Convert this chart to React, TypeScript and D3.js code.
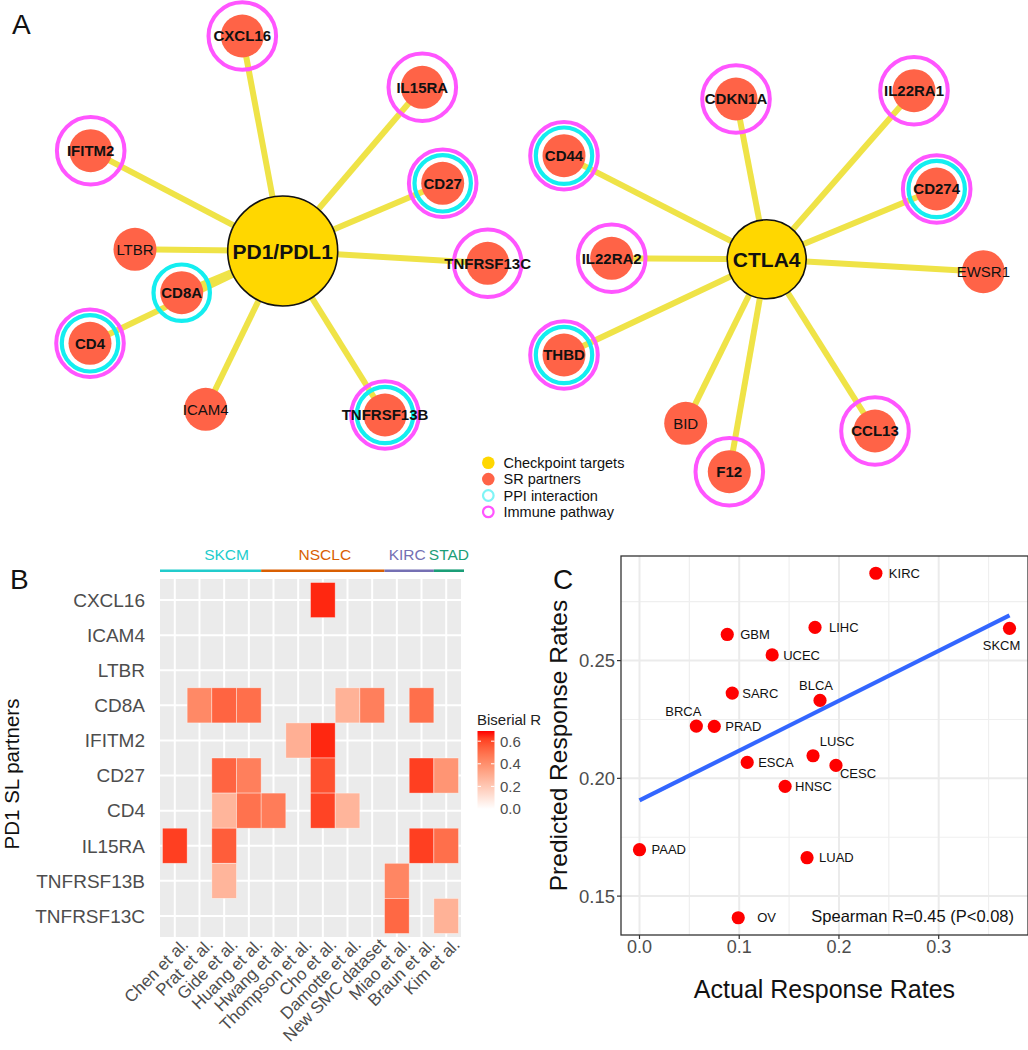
import React from "react";
import * as d3 from "d3";

const FONT = "'Liberation Sans', Arial, Helvetica, sans-serif";

// ---------------- Panel A: networks ----------------
const pdHub = "PD1/PDL1";
const pdPartners = ["CXCL16", "IL15RA", "IFITM2", "CD27", "LTBR", "TNFRSF13C", "CD8A", "CD4", "ICAM4", "TNFRSF13B"];
const pdPPI = ["CD27", "CD8A", "CD4", "TNFRSF13B"];
const pdImmune = ["CXCL16", "IL15RA", "IFITM2", "CD27", "TNFRSF13C", "CD4", "TNFRSF13B"];

const ctlaHub = "CTLA4";
const ctlaPartners = ["CDKN1A", "IL22RA1", "CD44", "CD274", "IL22RA2", "EWSR1", "THBD", "BID", "F12", "CCL13"];
const ctlaPPI = ["CD44", "CD274", "THBD"];
const ctlaImmune = ["CDKN1A", "IL22RA1", "CD44", "CD274", "IL22RA2", "THBD", "F12", "CCL13"];

const legendLabels = ["Checkpoint targets", "SR partners", "PPI interaction", "Immune pathway"];

// network layout (offsets of each partner from its hub)
const pdLayout: Record<string, [number, number]> = {
  CXCL16: [-40.4, -215], IL15RA: [139.6, -163.7], IFITM2: [-192, -100.3], CD27: [160, -67.7],
  LTBR: [-147.7, -1.7], TNFRSF13C: [205, 12.3], CD8A: [-101, 41.7], CD4: [-192.7, 92.3],
  ICAM4: [-77, 158.3], TNFRSF13B: [102.3, 164],
};
const ctlaLayout: Record<string, [number, number]> = {
  CDKN1A: [-30.7, -160.3], IL22RA1: [147.3, -168.6], CD44: [-202.7, -103.6], CD274: [170, -70.3],
  IL22RA2: [-155, -1], EWSR1: [216.6, 12.4], THBD: [-202.7, 95.7], BID: [-81, 164],
  F12: [-37.4, 212.4], CCL13: [108.3, 171.7],
};

// ---------------- Panel B: heatmap ----------------
const heatRows = ["CXCL16", "ICAM4", "LTBR", "CD8A", "IFITM2", "CD27", "CD4", "IL15RA", "TNFRSF13B", "TNFRSF13C"];
const heatCols = ["Chen et al.", "Prat et al.", "Gide et al.", "Huang et al.", "Hwang et al.", "Thompson et al.",
  "Cho et al.", "Damotte et al.", "New SMC dataset", "Miao et al.", "Braun et al.", "Kim et al."];
const colCancer = ["SKCM", "SKCM", "SKCM", "SKCM", "NSCLC", "NSCLC", "NSCLC", "NSCLC", "NSCLC", "KIRC", "KIRC", "STAD"];
const cancerGroups = ["SKCM", "NSCLC", "KIRC", "STAD"];
const cancerColors = ["#22CCCC", "#D95F02", "#7570B3", "#1B9E77"];
// [gene, study, biserial R]
const heatCells: [string, string, number][] = [
  ["CXCL16", "Cho et al.", 0.66],
  ["CD8A", "Prat et al.", 0.42], ["CD8A", "Gide et al.", 0.53], ["CD8A", "Huang et al.", 0.5],
  ["CD8A", "Damotte et al.", 0.28], ["CD8A", "New SMC dataset", 0.45], ["CD8A", "Braun et al.", 0.5],
  ["IFITM2", "Thompson et al.", 0.29], ["IFITM2", "Cho et al.", 0.66],
  ["CD27", "Gide et al.", 0.53], ["CD27", "Huang et al.", 0.45], ["CD27", "Cho et al.", 0.58],
  ["CD27", "Braun et al.", 0.62], ["CD27", "Kim et al.", 0.38],
  ["CD4", "Gide et al.", 0.27], ["CD4", "Huang et al.", 0.49], ["CD4", "Hwang et al.", 0.46],
  ["CD4", "Cho et al.", 0.61], ["CD4", "Damotte et al.", 0.27],
  ["IL15RA", "Chen et al.", 0.62], ["IL15RA", "Gide et al.", 0.55], ["IL15RA", "Braun et al.", 0.62],
  ["IL15RA", "Kim et al.", 0.5],
  ["TNFRSF13B", "Gide et al.", 0.27], ["TNFRSF13B", "Miao et al.", 0.43],
  ["TNFRSF13C", "Miao et al.", 0.52], ["TNFRSF13C", "Kim et al.", 0.28],
];
const rMax = 0.69;
const colorbarTicks = [0, 0.2, 0.4, 0.6];

// ---------------- Panel C: scatter ----------------
const cancers = ["KIRC", "LIHC", "GBM", "UCEC", "SKCM", "SARC", "BLCA", "BRCA", "PRAD", "ESCA", "LUSC", "CESC", "HNSC", "PAAD", "LUAD", "OV"];
const actualRate = [0.237, 0.176, 0.088, 0.133, 0.371, 0.093, 0.181, 0.057, 0.075, 0.108, 0.174, 0.197, 0.146, 0.0, 0.168, 0.099];
const predictedRate = [0.2871, 0.2641, 0.2611, 0.2524, 0.2637, 0.2362, 0.2331, 0.2222, 0.2221, 0.2068, 0.2096, 0.2055, 0.1966, 0.1697, 0.1663, 0.1408];
const xTicks = [0, 0.1, 0.2, 0.3];
const yTicks = [0.15, 0.2, 0.25];
const xMinor = [0.05, 0.15, 0.25, 0.35];
const yMinor = [0.175, 0.225, 0.275];
// repelled label placement [dx, dy, anchor]
const labelPlace: Record<string, [number, number, string]> = {
  KIRC: [13, 0, "start"], LIHC: [14, 0, "start"], GBM: [13, 0, "start"], UCEC: [11, 0, "start"],
  SKCM: [-8, 17, "middle"], SARC: [10, 0, "start"], BLCA: [-4, -15, "middle"], BRCA: [-13, -15, "middle"],
  PRAD: [11, 0, "start"], ESCA: [11, 0, "start"], LUSC: [24, -14, "middle"], CESC: [22, 8, "middle"],
  HNSC: [10, 0, "start"], PAAD: [12, 0, "start"], LUAD: [12, 0, "start"], OV: [19, 0, "start"],
};

const GOLD = "#FFD700";
const TOMATO = "#FF6347";
const CYAN = "#14EEF0";
const MAGENTA = "#FF55FF";
const EDGE = "#EFE347";

function Network(props: {
  hub: string; cx: number; cy: number; hubR: number; partners: string[];
  layout: Record<string, [number, number]>; ppi: string[]; immune: string[];
}) {
  const { hub, cx, cy, hubR, partners, layout, ppi, immune } = props;
  const nodes = partners.map((name) => ({
    name, x: cx + layout[name][0], y: cy + layout[name][1],
    ppi: ppi.includes(name), imm: immune.includes(name),
  }));
  return (
    <g>
      {nodes.map((n) => (
        <line key={"e" + n.name} x1={cx} y1={cy} x2={n.x} y2={n.y} stroke={EDGE} strokeWidth={6} />
      ))}
      <circle cx={cx} cy={cy} r={hubR} fill={GOLD} stroke="#111" strokeWidth={1.6} />
      <text x={cx} y={cy} dy="0.36em" textAnchor="middle" fontWeight="bold" fontSize={21} fill="#111">{hub}</text>
      {nodes.map((n) => (
        <g key={"n" + n.name}>
          {n.imm && <circle cx={n.x} cy={n.y} r={33.8} fill="none" stroke={MAGENTA} strokeWidth={4} />}
          {n.ppi && <circle cx={n.x} cy={n.y} r={28.2} fill="none" stroke={CYAN} strokeWidth={4.2} />}
          <circle cx={n.x} cy={n.y} r={21.5} fill={TOMATO} />
          <text x={n.x} y={n.y} dy="0.36em" textAnchor="middle" fontSize={15}
            fontWeight={n.ppi || n.imm ? "bold" : "normal"} fill="#111">{n.name}</text>
        </g>
      ))}
    </g>
  );
}

export default function App() {
  const W = 1028, H = 1050;

  // ---- heatmap scales ----
  const hx = d3.scalePoint<string>().domain(heatCols).range([160, 461]).padding(0.6);
  const hy = d3.scalePoint<string>().domain(heatRows).range([579, 937]).padding(0.6);
  const stepX = hx.step(), stepY = hy.step();
  const fill = d3.scaleLinear<string>().domain([0, rMax]).range(["#FFFFFF", "#FF0000"]).interpolate(d3.interpolateLab);
  const cbTop = 731, cbBottom = 809;
  const cbScale = d3.scaleLinear().domain([0, rMax]).range([cbBottom, cbTop]);
  const gradStops = d3.range(0, 1.0001, 0.1);

  const groupSpans = cancerGroups.map((g, gi) => {
    const idx = colCancer.map((c, i) => (c === g ? i : -1)).filter((i) => i >= 0);
    const first = idx[0], last = idx[idx.length - 1];
    const x0 = first === 0 ? 160 : (hx(heatCols[first]) as number) - stepX / 2;
    const x1 = last === heatCols.length - 1 ? 464 : (hx(heatCols[last]) as number) + stepX / 2;
    return { g, x0, x1, color: cancerColors[gi] };
  });
  const groupLabelShift: Record<string, number> = { SKCM: 16, NSCLC: 2, KIRC: -2, STAD: 0 };

  // ---- scatter scales ----
  const xe = d3.extent(actualRate) as [number, number];
  const ye = d3.extent(predictedRate) as [number, number];
  const xPad = (xe[1] - xe[0]) * 0.05, yPad = (ye[1] - ye[0]) * 0.05;
  const pL = 621, pR = 1028, pT = 556, pB = 935;
  const sx = d3.scaleLinear().domain([xe[0] - xPad, xe[1] + xPad]).range([pL, pR]);
  const sy = d3.scaleLinear().domain([ye[0] - yPad, ye[1] + yPad]).range([pB, pT]);
  const mx = d3.mean(actualRate)!, my = d3.mean(predictedRate)!;
  const sxy = d3.sum(actualRate.map((v, i) => (v - mx) * (predictedRate[i] - my)));
  const sxx = d3.sum(actualRate.map((v) => (v - mx) * (v - mx)));
  const slope = sxy / sxx, intercept = my - slope * mx;
  const fitLine = d3.line<number>().x((v) => sx(v)).y((v) => sy(intercept + slope * v));

  return (
    <svg width={W} height={H} style={{ position: "absolute", left: 0, top: 0, background: "#fff" }}
      fontFamily={FONT}>
      <rect x={0} y={0} width={W} height={H} fill="#fff" />
      {/* ---------- Panel A ---------- */}
      <text x={12} y={34} fontSize={28} fill="#111">A</text>
      <Network hub={pdHub} cx={282.7} cy={251} hubR={55} partners={pdPartners} layout={pdLayout} ppi={pdPPI} immune={pdImmune} />
      <Network hub={ctlaHub} cx={766.7} cy={259.3} hubR={39.5} partners={ctlaPartners} layout={ctlaLayout} ppi={ctlaPPI} immune={ctlaImmune} />
      <g>
        {legendLabels.map((lab, i) => {
          const y = 462.7 + i * 16.4;
          return (
            <g key={lab}>
              {i === 0 && <circle cx={488.3} cy={y} r={6.3} fill={GOLD} />}
              {i === 1 && <circle cx={488.3} cy={y} r={6.3} fill={TOMATO} />}
              {i === 2 && <circle cx={488.3} cy={y} r={5.3} fill="none" stroke="#7FF4F6" strokeWidth={2.2} />}
              {i === 3 && <circle cx={488.3} cy={y} r={5.3} fill="none" stroke={MAGENTA} strokeWidth={2.2} />}
              <text x={503.5} y={y} dy="0.36em" fontSize={14.5} fill="#111">{lab}</text>
            </g>
          );
        })}
      </g>

      {/* ---------- Panel B ---------- */}
      <text x={10} y={589} fontSize={28} fill="#111">B</text>
      <rect x={160} y={579} width={301} height={358} fill="#EBEBEB" />
      {heatCols.map((c) => (
        <line key={"gx" + c} x1={hx(c)} x2={hx(c)} y1={579} y2={937} stroke="#fff" strokeWidth={2} />
      ))}
      {heatRows.map((r) => (
        <line key={"gy" + r} x1={160} x2={461} y1={hy(r)} y2={hy(r)} stroke="#fff" strokeWidth={2} />
      ))}
      {heatCells.map(([g, s, v]) => (
        <rect key={g + s} x={(hx(s) as number) - stepX / 2} y={(hy(g) as number) - stepY / 2}
          width={stepX} height={stepY} fill={fill(v)} stroke="#fff" strokeOpacity={0.55} strokeWidth={0.7} />
      ))}
      {groupSpans.map((s) => (
        <g key={s.g}>
          <line x1={s.x0} x2={s.x1} y1={570.7} y2={570.7} stroke={s.color} strokeWidth={2.6} />
          <text x={(s.x0 + s.x1) / 2 + groupLabelShift[s.g]} y={560} textAnchor="middle" fontSize={15.5} fill={s.color}>{s.g}</text>
        </g>
      ))}
      {heatRows.map((r) => (
        <text key={"yl" + r} x={145} y={hy(r)} dy="0.36em" textAnchor="end" fontSize={19} fill="#4D4D4D">{r}</text>
      ))}
      {heatCols.map((c) => (
        <text key={"xl" + c} transform={`translate(${(hx(c) as number) + 6},${937}) rotate(-45)`}
          dy="0.72em" textAnchor="end" fontSize={17} fill="#4D4D4D">{c}</text>
      ))}
      <text transform={`translate(${19},${774}) rotate(-90)`} textAnchor="middle" fontSize={20.5} fill="#111">PD1 SL partners</text>
      {/* colorbar */}
      <defs>
        <linearGradient id="cbgrad" x1="0" y1="1" x2="0" y2="0">
          {gradStops.map((t) => (
            <stop key={t} offset={`${t * 100}%`} stopColor={fill(t * rMax)} />
          ))}
        </linearGradient>
      </defs>
      <text x={477} y={725} fontSize={15} fill="#222">Biserial R</text>
      <rect x={477.5} y={cbTop} width={17} height={cbBottom - cbTop} fill="url(#cbgrad)" />
      {colorbarTicks.map((t) => (
        <g key={"cb" + t}>
          <line x1={477.5} x2={481} y1={cbScale(t)} y2={cbScale(t)} stroke="#fff" strokeWidth={1} />
          <line x1={491} x2={494.5} y1={cbScale(t)} y2={cbScale(t)} stroke="#fff" strokeWidth={1} />
          <text x={500} y={cbScale(t)} dy="0.36em" fontSize={15} fill="#4D4D4D">{t.toFixed(1)}</text>
        </g>
      ))}

      {/* ---------- Panel C ---------- */}
      <text x={553} y={589} fontSize={28} fill="#111">C</text>
      <rect x={pL} y={pT} width={pR - pL} height={pB - pT} fill="#fff" />
      {xMinor.map((v) => (
        <line key={"xm" + v} x1={sx(v)} x2={sx(v)} y1={pT} y2={pB} stroke="#EFEFEF" strokeWidth={1.2} />
      ))}
      {yMinor.map((v) => (
        <line key={"ym" + v} x1={pL} x2={pR} y1={sy(v)} y2={sy(v)} stroke="#EFEFEF" strokeWidth={1.2} />
      ))}
      {xTicks.map((v) => (
        <line key={"xg" + v} x1={sx(v)} x2={sx(v)} y1={pT} y2={pB} stroke="#EBEBEB" strokeWidth={2} />
      ))}
      {yTicks.map((v) => (
        <line key={"yg" + v} x1={pL} x2={pR} y1={sy(v)} y2={sy(v)} stroke="#EBEBEB" strokeWidth={2} />
      ))}
      <path d={fitLine([xe[0], xe[1]]) || ""} stroke="#3366FF" strokeWidth={4.2} fill="none" />
      {cancers.map((c, i) => (
        <circle key={"pt" + c} cx={sx(actualRate[i])} cy={sy(predictedRate[i])} r={6.6} fill="#FF0000" />
      ))}
      {cancers.map((c, i) => {
        const [dx, dy, anchor] = labelPlace[c];
        return (
          <text key={"lb" + c} x={sx(actualRate[i]) + dx} y={sy(predictedRate[i]) + dy} dy="0.36em"
            textAnchor={anchor} fontSize={13} fill="#111">{c}</text>
        );
      })}
      <text x={1014} y={916.5} dy="0.36em" textAnchor="end" fontSize={16.5} fill="#111">Spearman R=0.45 (P&lt;0.08)</text>
      <rect x={pL} y={pT} width={pR - pL} height={pB - pT} fill="none" stroke="#333" strokeWidth={1.3} />
      {xTicks.map((v) => (
        <g key={"xt" + v}>
          <line x1={sx(v)} x2={sx(v)} y1={pB} y2={pB + 4} stroke="#333" strokeWidth={1.2} />
          <text x={sx(v)} y={947} dy="0.36em" textAnchor="middle" fontSize={18} fill="#4D4D4D">{v.toFixed(1)}</text>
        </g>
      ))}
      {yTicks.map((v) => (
        <g key={"yt" + v}>
          <line x1={pL - 4} x2={pL} y1={sy(v)} y2={sy(v)} stroke="#333" strokeWidth={1.2} />
          <text x={615} y={sy(v)} dy="0.36em" textAnchor="end" fontSize={18.5} fill="#4D4D4D">{v.toFixed(2)}</text>
        </g>
      ))}
      <text x={(pL + pR) / 2} y={989} dy="0.36em" textAnchor="middle" fontSize={25} fill="#111">Actual Response Rates</text>
      <text transform={`translate(${567},${(pT + pB) / 2}) rotate(-90)`} textAnchor="middle" fontSize={24.5} fill="#111">Predicted Response Rates</text>
    </svg>
  );
}
